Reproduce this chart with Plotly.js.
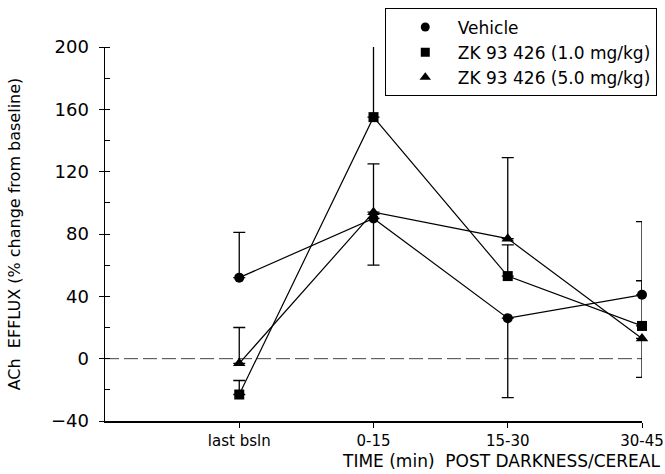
<!DOCTYPE html>
<html>
<head>
<meta charset="utf-8">
<script src="https://cdn.plot.ly/plotly-3.0.1.min.js"></script>
<style>html,body{margin:0;padding:0;background:#fff}#chart{width:665px;height:474px}</style>
</head>
<body>
<div id="chart"></div>
<script>
var categories = ['last bsln', '0-15', '15-30', '30-45'];
var seriesNames = ['Vehicle', 'ZK 93 426 (1.0 mg/kg)', 'ZK 93 426 (5.0 mg/kg)'];
var vehicle = [52, 90, 26, 41];
var vehicleErrPlus = [29, 0, 0, 47];
var vehicleErrMinus = [0, 30, 51, 0];
var zk1 = [-23, 155, 53, 21];
var zk1ErrPlus = [9, 47, 20, 29];
var zk1ErrMinus = [0, 0, 0, 0];
var zk5 = [-3, 94, 77, 13];
var zk5ErrPlus = [23, 31, 52, 0];
var zk5ErrMinus = [0, 0, 0, 25];
var yTicks = [-40, 0, 40, 80, 120, 160, 200];

var FONT = 'DejaVu Sans, Verdana, sans-serif';
var symbols = ['circle', 'square', 'triangle-up'];
var msize = [10, 10, 11];
var vals = [vehicle, zk1, zk5];
var ep = [vehicleErrPlus, zk1ErrPlus, zk5ErrPlus];
var em = [vehicleErrMinus, zk1ErrMinus, zk5ErrMinus];

var traces = [];
for (var i = 0; i < 3; i++) {
  traces.push({
    x: categories, y: vals[i], type: 'scatter', mode: 'lines+markers',
    showlegend: false, cliponaxis: false,
    line: {color: '#000', width: 1.2},
    marker: {symbol: symbols[i], size: msize[i], color: '#000'},
    error_y: {type: 'data', symmetric: false, array: ep[i], arrayminus: em[i],
      color: '#000', thickness: 1.3, width: 6}
  });
}
for (var j = 0; j < 3; j++) {
  traces.push({
    x: [null], y: [null], type: 'scatter', mode: 'markers', name: seriesNames[j],
    marker: {symbol: symbols[j], size: msize[j] - 1, color: '#000'}
  });
}
// overlay axis for inner half of major ticks
traces.push({x: [null], y: [null], yaxis: 'y2', showlegend: false, hoverinfo: 'skip'});

var layout = {
  width: 665, height: 474,
  margin: {l: 105, r: 22.5, t: 47, b: 53, autoexpand: false},
  paper_bgcolor: '#fff', plot_bgcolor: '#fff',
  font: {family: FONT, color: '#000'},
  showlegend: true,
  legend: {x: 0.521, y: 1.103, xanchor: 'left', yanchor: 'top',
    bordercolor: '#000', borderwidth: 1, bgcolor: '#fff',
    font: {size: 17, family: FONT}, itemwidth: 55, indentation: 7, tracegroupgap: 0,
    traceorder: 'normal'},
  xaxis: {
    type: 'category', range: [-1, 3], showgrid: false, zeroline: false,
    showline: true, linecolor: '#000', linewidth: 1.5,
    ticks: 'outside', ticklen: 5, tickcolor: '#000',
    tickfont: {size: 15, family: FONT}, fixedrange: true
  },
  yaxis: {
    range: [-40, 200], tickvals: yTicks, ticktext: yTicks.map(function(v){return v < 0 ? '\u2212' + Math.abs(v) : String(v);}),
    showgrid: false, zeroline: false,
    showline: true, linecolor: '#000', linewidth: 1.5,
    ticks: 'outside', ticklen: 5, tickcolor: '#000', ticklabelstandoff: 6,
    tickfont: {size: 18, family: FONT},
    minor: {dtick: 20, tick0: 0, ticks: 'inside', ticklen: 5, tickcolor: '#000', showgrid: false},
    title: {text: 'ACh  EFFLUX (% change from baseline)', font: {size: 16, family: FONT}, standoff: 26}
  },
  yaxis2: {
    overlaying: 'y', side: 'left', range: [-40, 200], tickvals: yTicks,
    showticklabels: false, showgrid: false, zeroline: false, showline: false,
    ticks: 'inside', ticklen: 5, tickcolor: '#000'
  },
  shapes: [{type: 'line', xref: 'paper', x0: 0, x1: 1, yref: 'y', y0: 0, y1: 0,
    line: {color: '#444', width: 1, dash: '14px,5px'}, layer: 'below'}],
  annotations: [{text: 'TIME (min)  POST DARKNESS/CEREAL', xref: 'paper', yref: 'paper',
    x: 1.038, y: 0, xanchor: 'right', yanchor: 'top', yshift: -28, showarrow: false,
    font: {size: 17, family: FONT}}]
};

Plotly.newPlot('chart', traces, layout, {staticPlot: true});
</script>
</body>
</html>
